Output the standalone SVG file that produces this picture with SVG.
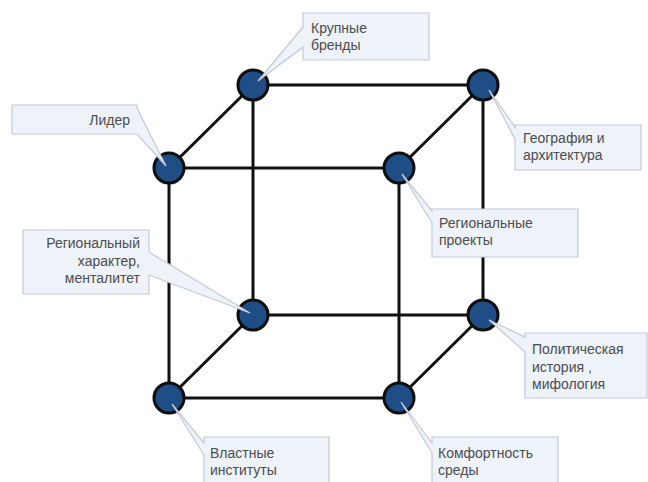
<svg xmlns="http://www.w3.org/2000/svg" width="648" height="482" viewBox="0 0 648 482">
<style>
.edge{stroke:#111;stroke-width:3;stroke-linecap:round;fill:none}
.node{fill:#1F4E86;stroke:#0d0d0d;stroke-width:3}
.co{fill:#EEF2F9;stroke:#C3CAD5;stroke-width:1.2;stroke-linejoin:miter}
.t{font-family:"Liberation Sans",Arial,sans-serif;font-size:14px;fill:#4d4d4d}
.r{text-anchor:end}
</style>
<rect width="648" height="482" fill="#fff"/>
<g id="connectors">
<line class="edge" x1="253" y1="85" x2="483" y2="85"/>
<line class="edge" x1="169" y1="168" x2="399" y2="168"/>
<line class="edge" x1="253" y1="85" x2="169" y2="168"/>
<line class="edge" x1="483" y1="85" x2="399" y2="168"/>
<line class="edge" x1="253" y1="85" x2="253" y2="315"/>
<line class="edge" x1="483" y1="85" x2="483" y2="315"/>
<line class="edge" x1="169" y1="168" x2="169" y2="398"/>
<line class="edge" x1="399" y1="168" x2="399" y2="398"/>
<line class="edge" x1="253" y1="315" x2="483" y2="315"/>
<line class="edge" x1="169" y1="398" x2="399" y2="398"/>
<line class="edge" x1="253" y1="315" x2="169" y2="398"/>
<line class="edge" x1="483" y1="315" x2="399" y2="398"/>
</g>
<g id="nodes">
<circle id="n-tbl" class="node" cx="253" cy="85" r="15"/>
<circle id="n-tbr" class="node" cx="483" cy="85" r="15"/>
<circle id="n-tfl" class="node" cx="169" cy="168" r="15"/>
<circle id="n-tfr" class="node" cx="399" cy="168" r="15"/>
<circle id="n-bbl" class="node" cx="253" cy="315" r="15"/>
<circle id="n-bbr" class="node" cx="483" cy="315" r="15"/>
<circle id="n-bfl" class="node" cx="169" cy="398" r="15"/>
<circle id="n-bfr" class="node" cx="399" cy="398" r="15"/>
</g>
<g id="callout-brands">
<path class="co" d="M303,13 H429 V60 H303 V47 L258,81 L303,27 Z"/>
<text class="t" x="311" y="33">Крупные</text>
<text class="t" x="311" y="50">бренды</text>
</g>
<g id="callout-leader">
<path class="co" d="M12,105 H137 V108 L166,166 L137,134 H12 Z"/>
<text class="t r" x="130" y="125">Лидер</text>
</g>
<g id="callout-geo">
<path class="co" d="M515,125 H641 V170 H515 V139 L489,90 L515,127 Z"/>
<text class="t" x="523" y="143">География и</text>
<text class="t" x="523" y="160">архитектура</text>
</g>
<g id="callout-projects">
<path class="co" d="M432,209 H578 V257 H432 V223 L402,174 L432,211 Z"/>
<text class="t" x="439" y="228">Региональные</text>
<text class="t" x="439" y="245">проекты</text>
</g>
<g id="callout-character">
<path class="co" d="M23,230 H149 V252 L250,313 L149,275 V294 H23 Z"/>
<text class="t r" x="140" y="248">Региональный</text>
<text class="t r" x="140" y="265.5">характер,</text>
<text class="t r" x="140" y="283">менталитет</text>
</g>
<g id="callout-history">
<path class="co" d="M525,333 H647 V398 H525 V352 L489,320 L525,337 Z"/>
<text class="t" x="532" y="354">Политическая</text>
<text class="t" x="532" y="371.5">история ,</text>
<text class="t" x="532" y="389">мифология</text>
</g>
<g id="callout-institutions">
<path class="co" d="M204,437 H329 V492 H204 V455 L172,404 L204,443 Z"/>
<text class="t" x="210" y="458">Властные</text>
<text class="t" x="210" y="475">институты</text>
</g>
<g id="callout-comfort">
<path class="co" d="M432,437 H558 V492 H432 V453 L401,402 L432,443 Z"/>
<text class="t" x="438" y="458">Комфортность</text>
<text class="t" x="438" y="475">среды</text>
</g>
</svg>
